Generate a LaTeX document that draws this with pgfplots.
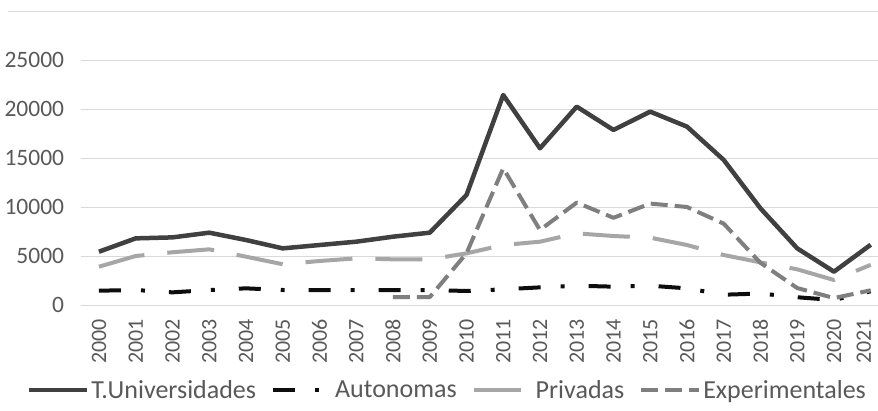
\documentclass[border=0pt]{standalone}
\usepackage{fontspec}
\setmainfont{Carlito}
\usepackage{pgfplots}
\pgfplotsset{compat=1.18}
\definecolor{tuniv}{HTML}{404040}
\definecolor{auton}{HTML}{0D0D0D}
\definecolor{priv}{HTML}{A6A6A6}
\definecolor{exper}{HTML}{7F7F7F}
\definecolor{gridc}{HTML}{D9D9D9}
\definecolor{textc}{HTML}{595959}
\begin{document}
\begin{tikzpicture}
\useasboundingbox (0,0) rectangle (878pt,410pt);
\clip (0,0) rectangle (878pt,410pt);
\fill[white] (0,0) rectangle (878pt,410pt);
\draw[gridc, line width=1pt] (8pt,398pt) -- (878pt,398pt);
\begin{axis}[
  at={(80.6pt,105pt)}, anchor=south west,
  scale only axis, width=808.5pt, height=245pt,
  xmin=-0.5, xmax=21.5, ymin=0, ymax=25000,
  xtick={0,1,...,20},
  xticklabels={2000,2001,2002,2003,2004,2005,2006,2007,2008,2009,2010,2011,2012,2013,2014,2015,2016,2017,2018,2019,2020},
  extra x ticks={21},
  extra x tick labels={2021},
  extra x tick style={every x tick label/.style={font=\fontsize{22}{26}\selectfont, text=textc, xshift=-7pt, yshift=-13pt, rotate=90, anchor=east, inner sep=1pt}},
  ytick={0,5000,10000,15000,20000,25000},
  scaled y ticks=false,
  ymajorgrids, major grid style={gridc, line width=1pt},
  axis line style={draw=none}, major tick length=0pt,
  xtick pos=bottom, ytick pos=left,
  /pgf/number format/assume math mode=true,
  /pgf/number format/set thousands separator={},
  yticklabel style={font=\fontsize{23.5}{28}\selectfont, text=textc, xshift=-13pt},
  xticklabel style={font=\fontsize{22}{26}\selectfont, text=textc, yshift=-13pt, rotate=90, anchor=east, inner sep=1pt},
  legend columns=4,
  legend image code/.code={\draw[#1] (0pt,0pt) -- (58pt,0pt);},
  legend style={at={(-0.0668,-0.347)}, anchor=west, draw=none, fill=none,
    font=\fontsize{26}{30}\selectfont, text=textc, inner sep=0pt,
    nodes={inner sep=2pt},
    /tikz/every even column/.append style={column sep=13pt}},
  line join=round,
]
\addplot[tuniv, line width=4.5pt] coordinates {
(0,5440) (1,6800) (2,6900) (3,7380) (4,6630) (5,5780) (6,6120) (7,6460) (8,6970) (9,7380) (10,11220)
(11,21430) (12,15990) (13,20240) (14,17860) (15,19730) (16,18200) (17,14800) (18,9860) (19,5780) (20,3400) (21,6150)};
\addlegendentry{T.Universidades}
\addplot[auton, line width=4pt, dash pattern=on 22pt off 20pt on 4pt off 24pt] coordinates {
(0,1460) (1,1530) (2,1290) (3,1530) (4,1700) (5,1530) (6,1530) (7,1530) (8,1530) (9,1530) (10,1430)
(11,1600) (12,1800) (13,1970) (14,1870) (15,1970) (16,1700) (17,1050) (18,1170) (19,790) (20,510) (21,1400)};
\addlegendentry{Autonomas}
\addplot[priv, line width=4pt, dash pattern=on 47pt off 23pt] coordinates {
(0,3910) (1,5000) (2,5380) (3,5680) (4,4930) (5,4160) (6,4490) (7,4760) (8,4660) (9,4660) (10,5270)
(11,6120) (12,6460) (13,7310) (14,7040) (15,6870) (16,6120) (17,5100) (18,4350) (19,3640) (20,2550) (21,4100)};
\addlegendentry{Privadas}
\addplot[exper, line width=4pt, dash pattern=on 17pt off 7pt] coordinates {
(8,800) (9,800) (10,5270) (11,13950) (12,7650) (13,10450) (14,8900) (15,10350) (16,10000) (17,8300)
(18,4300) (19,1730) (20,710) (21,1500)};
\addlegendentry{Experimentales}
\end{axis}
\end{tikzpicture}
\end{document}
